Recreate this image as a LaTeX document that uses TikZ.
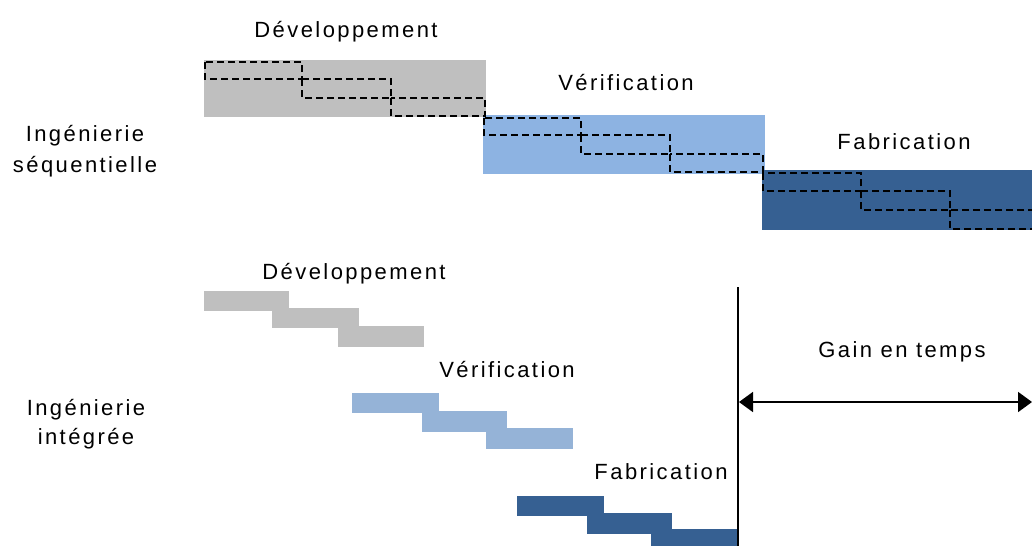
\documentclass[tikz,border=0pt]{standalone}
\usepackage{fontspec}
\setmainfont[LetterSpace=11]{Liberation Sans}
\usetikzlibrary{arrows.meta}
\definecolor{cgray}{HTML}{BFBFBF}
\definecolor{cblue}{HTML}{8DB3E2}
\definecolor{cblueb}{HTML}{95B3D7}
\definecolor{cdark}{HTML}{366092}
\tikzset{
  lbl/.style={anchor=base, inner sep=0pt, font=\fontsize{22}{26}\selectfont},
  stepline/.style={draw=black, line width=1.8pt, dash pattern=on 7pt off 4pt},
  gainarrow/.style={line width=1.8pt, {Triangle[length=14pt,width=20pt]}-{Triangle[length=14pt,width=20pt]}},
}
\begin{document}
\begin{tikzpicture}[x=1pt,y=-1pt]
\useasboundingbox (0,0) rectangle (1032,546);
% --- sequential
\fill[cgray] (204,60) rectangle (486,117);
\fill[cblue] (483,115) rectangle (765,174);
\fill[cdark] (762,170) rectangle (1040,230);
\draw[stepline] (205,62) rectangle (302,79);
\draw[stepline] (302,79) rectangle (391,98);
\draw[stepline] (391,98) rectangle (485,116);
\draw[stepline] (484,118) rectangle (581,135);
\draw[stepline] (581,135) rectangle (670,154);
\draw[stepline] (670,154) rectangle (763,172);
\draw[stepline] (763,173) rectangle (861,191);
\draw[stepline] (861,191) rectangle (950,210);
\draw[stepline] (950,210) rectangle (1045,229);
\node[lbl] (dev1) at (346,37) {Développement};
\node[lbl] (ver1) at (626,90) {Vérification};
\node[lbl] (fab1) at (904,149) {Fabrication};
\node[lbl] (seq1) at (85,141) {Ingénierie};
\node[lbl] (seq2) at (85,172) {séquentielle};
% --- integrated
\fill[cgray] (204,291) rectangle (289,311);
\fill[cgray] (272,308) rectangle (359,328);
\fill[cgray] (338,326) rectangle (424,347);
\fill[cblueb] (352,393) rectangle (439,413);
\fill[cblueb] (422,411) rectangle (507,432);
\fill[cblueb] (486,428) rectangle (573,449);
\fill[cdark] (517,496) rectangle (604,516);
\fill[cdark] (587,513) rectangle (672,534);
\fill[cdark] (651,529) rectangle (738,546);
\node[lbl] (dev2) at (354,279) {Développement};
\node[lbl] (ver2) at (507,377) {Vérification};
\node[lbl] (fab2) at (661,479) {Fabrication};
\node[lbl] (int1) at (86,415) {Ingénierie};
\node[lbl] (int2) at (86,444) {intégrée};
% --- gain
\coordinate (vtop) at (738,287);
\coordinate (vbot) at (738,546);
\draw[line width=1.8pt] (vtop) -- (vbot);
\coordinate (aL) at (739,402);
\coordinate (aR) at (1032,402);
\draw[gainarrow] (aL) -- (aR);
\node[lbl] (gain) at (902,357) {Gain en temps};
\end{tikzpicture}
\end{document}
